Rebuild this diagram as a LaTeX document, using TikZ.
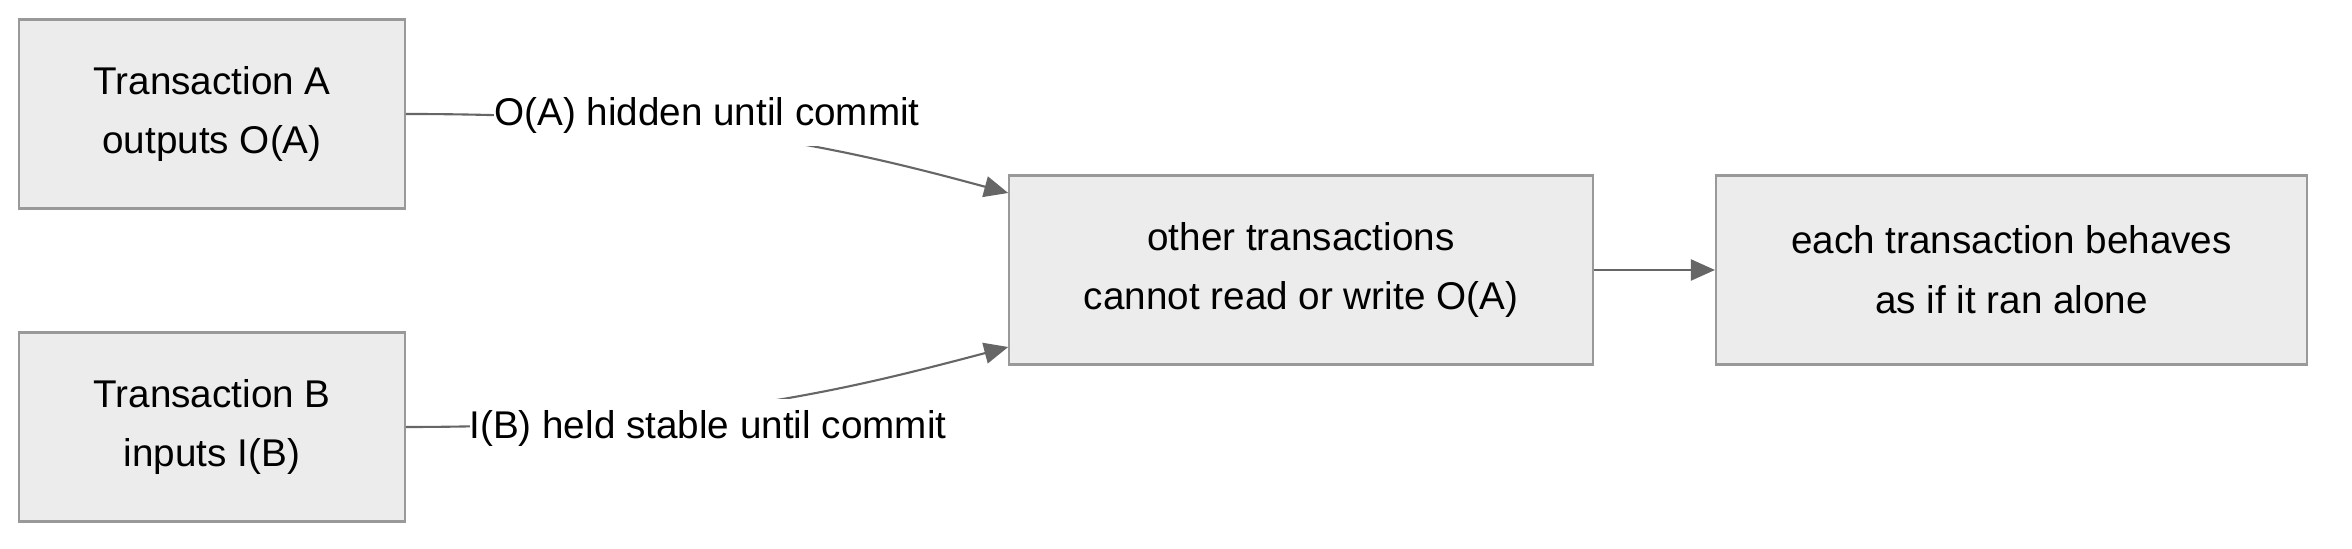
\documentclass[tikz,border=0pt]{standalone}
\usepackage{fontspec}
\setmainfont{Liberation Sans}
\usetikzlibrary{arrows.meta}
\definecolor{boxfill}{HTML}{ECECEC}
\definecolor{boxline}{HTML}{999999}
\definecolor{edgeline}{HTML}{666666}

\begin{document}
\begin{tikzpicture}
  [font=\fontsize{11pt}{17pt}\selectfont,
   box/.style={rectangle,draw=boxline,fill=boxfill,line width=0.6pt,align=center,minimum height=1.89cm,inner sep=0pt},
   lbl/.style={fill=white,inner sep=0pt,minimum height=6mm},
   edge/.style={draw=edgeline,line width=0.6pt,-{Triangle[length=2.4mm,width=2.1mm]}}]
  \useasboundingbox (0,0) rectangle (23.52,5.49);

  \node[box,minimum width=3.855cm] (a) at (2.12,4.35) {Transaction A\\outputs O(A)};
  \node[box,minimum width=3.855cm] (b) at (2.12,1.22) {Transaction B\\inputs I(B)};
  \node[box,minimum width=5.835cm] (m) at (13.01,2.79) {other transactions\\cannot read or write O(A)};
  \node[box,minimum width=5.91cm] (r) at (20.115,2.79) {each transaction behaves\\as if it ran alone};

  \draw[edge] (a.east) .. controls +(2.95,0) and +(-1.59,0.43) .. ([yshift=7.7mm]m.west);
  \draw[edge] (b.east) .. controls +(2.95,0) and +(-1.59,-0.42) .. ([yshift=-7.7mm]m.west);
  \draw[edge] (m) -- (r);

  \node[lbl] (la) at (7.07,4.33) {O(A) hidden until commit};
  \node[lbl] (lb) at (7.08,1.20) {I(B) held stable until commit};

\end{tikzpicture}
\end{document}
